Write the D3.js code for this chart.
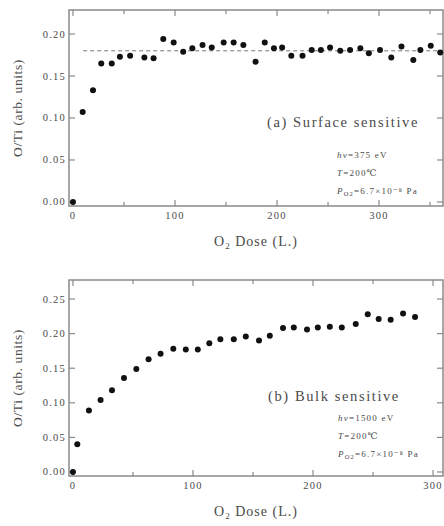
<!DOCTYPE html>
<html>
<head>
<meta charset="utf-8">
<script src="https://cdn.jsdelivr.net/npm/d3@7"></script>
<style>
  body { margin: 0; background: #fff; }
</style>
</head>
<body>
<script>
// Panel (a): surface sensitive
const doseA = [0, 9.5, 19.6, 27.7, 38, 46, 56, 70, 79, 88.5, 98.7, 108, 117, 127, 136, 147.7, 157.5, 167, 179, 188,
  197, 205, 214, 225, 234, 243, 252, 262, 271.6, 281.7, 290, 301, 312, 322, 333.6, 340.5, 350.7, 360];
const ratioA = [0.0, 0.107, 0.133, 0.165, 0.165, 0.173, 0.174, 0.172, 0.171, 0.194, 0.19, 0.179, 0.183, 0.187, 0.184, 0.19, 0.19,
  0.187, 0.167, 0.19, 0.183, 0.184, 0.174, 0.174, 0.181, 0.181, 0.184, 0.18, 0.181, 0.183, 0.177, 0.181, 0.172, 0.185,
  0.169, 0.181, 0.186, 0.178];
const levelA = 0.18;
const levelAStart = 10;

// Panel (b): bulk sensitive
const doseB = [0, 3.6, 13.3, 23, 32.5, 42.5, 52.8, 63, 73, 83.6, 94, 104, 113.6, 122.8, 134, 144, 155, 164, 175, 184,
  195, 204, 214, 224, 235.6, 245.6, 254.7, 264.7, 275, 285];
const ratioB = [0.0, 0.04, 0.089, 0.104, 0.118, 0.136, 0.149, 0.163, 0.171, 0.178, 0.177, 0.177, 0.186, 0.192, 0.192, 0.196,
  0.19, 0.197, 0.208, 0.209, 0.206, 0.209, 0.21, 0.209, 0.214, 0.228, 0.221, 0.22, 0.229, 0.224];

const xTicksA = [0, 100, 200, 300];
const xMinorA = [50, 150, 250, 350];
const yTicksA = [0, 0.05, 0.10, 0.15, 0.20];
const xTicksB = [0, 100, 200, 300];
const xMinorB = [50, 150, 250];
const yTicksB = [0, 0.05, 0.10, 0.15, 0.20, 0.25];

const titleA = "(a) Surface sensitive";
const titleB = "(b) Bulk sensitive";
const notesA = ["hν=375 eV", "T=200℃", "P_O2=6.7×10⁻⁸ Pa"];
const notesB = ["hν=1500 eV", "T=200℃", "P_O2=6.7×10⁻⁸ Pa"];

const width = 444, height = 526;
const svg = d3.select("body").append("svg")
  .attr("width", width)
  .attr("height", height)
  .attr("font-family", "'Liberation Serif', 'DejaVu Serif', serif")
  .attr("fill", "#4a4a4a");

function drawPanel(cfg) {
  const x = d3.scaleLinear().domain(cfg.xDomain).range([cfg.left, cfg.right]);
  const y = d3.scaleLinear().domain(cfg.yDomain).range([cfg.bottom, cfg.top]);
  const g = svg.append("g");
  const frameColor = "#8a8a8a";

  // frame
  g.append("rect")
    .attr("x", cfg.left).attr("y", cfg.top)
    .attr("width", cfg.right - cfg.left).attr("height", cfg.bottom - cfg.top)
    .attr("fill", "none").attr("stroke", frameColor).attr("stroke-width", 1.5);

  // x ticks, inward on bottom and top
  const xt = cfg.xTicks.map(v => ({ v, len: 6 })).concat(cfg.xMinor.map(v => ({ v, len: 4 })));
  g.selectAll(".xtb").data(xt).enter().append("line")
    .attr("x1", d => x(d.v)).attr("x2", d => x(d.v))
    .attr("y1", cfg.bottom).attr("y2", d => cfg.bottom - d.len)
    .attr("stroke", frameColor).attr("stroke-width", 1.2);
  g.selectAll(".xtt").data(xt).enter().append("line")
    .attr("x1", d => x(d.v)).attr("x2", d => x(d.v))
    .attr("y1", cfg.top).attr("y2", d => cfg.top + d.len)
    .attr("stroke", frameColor).attr("stroke-width", 1.2);
  g.selectAll(".xl").data(cfg.xTicks).enter().append("text")
    .attr("x", d => x(d)).attr("y", cfg.bottom + 13)
    .attr("text-anchor", "middle").attr("font-size", 10.5)
    .attr("letter-spacing", 1.2)
    .text(d => d);

  // y ticks, inward on left and right
  g.selectAll(".ytl").data(cfg.yTicks).enter().append("line")
    .attr("x1", cfg.left).attr("x2", cfg.left + 6)
    .attr("y1", d => y(d)).attr("y2", d => y(d))
    .attr("stroke", frameColor).attr("stroke-width", 1.2);
  g.selectAll(".ytr").data(cfg.yTicks).enter().append("line")
    .attr("x1", cfg.right).attr("x2", cfg.right - 6)
    .attr("y1", d => y(d)).attr("y2", d => y(d))
    .attr("stroke", frameColor).attr("stroke-width", 1.2);
  g.selectAll(".yl").data(cfg.yTicks).enter().append("text")
    .attr("x", cfg.left - 3).attr("y", d => y(d) + 3.5)
    .attr("text-anchor", "end").attr("font-size", 10.5)
    .attr("letter-spacing", 1.2)
    .text(d => d3.format(".2f")(d));

  // axis labels
  const xl = g.append("text")
    .attr("x", (cfg.left + cfg.right) / 2).attr("y", cfg.bottom + 40)
    .attr("text-anchor", "middle").attr("font-size", 14)
    .attr("letter-spacing", 1);
  xl.append("tspan").text("O");
  xl.append("tspan").attr("font-size", 9).attr("dy", 3).text("2");
  xl.append("tspan").attr("dy", -3).text(" Dose (L.)");

  g.append("text")
    .attr("transform", `translate(22, ${(cfg.top + cfg.bottom) / 2}) rotate(-90)`)
    .attr("text-anchor", "middle").attr("font-size", 13.5)
    .attr("letter-spacing", 0.6)
    .text("O/Ti (arb. units)");

  // reference level
  if (cfg.level !== undefined) {
    g.append("line")
      .attr("x1", x(cfg.levelStart)).attr("x2", cfg.right)
      .attr("y1", y(cfg.level)).attr("y2", y(cfg.level))
      .attr("stroke", "#777").attr("stroke-width", 1)
      .attr("stroke-dasharray", "4,3");
  }

  // points
  g.selectAll("circle").data(cfg.xs.map((d, i) => [d, cfg.ys[i]])).enter().append("circle")
    .attr("cx", d => x(d[0])).attr("cy", d => y(d[1]))
    .attr("r", 3).attr("fill", "#111");

  // title and notes
  g.append("text")
    .attr("x", cfg.titleX).attr("y", cfg.titleY)
    .attr("font-size", 14.5).attr("letter-spacing", 1.6)
    .text(cfg.title);

  cfg.notes.forEach((t, i) => {
    const tx = g.append("text")
      .attr("x", cfg.noteX).attr("y", cfg.noteY + i * 18)
      .attr("font-size", 9).attr("letter-spacing", 1.2);
    if (t.startsWith("P_O2")) {
      tx.append("tspan").attr("font-style", "italic").text("P");
      tx.append("tspan").attr("font-size", 6.5).attr("dy", 2).text("O2");
      tx.append("tspan").attr("dy", -2).text(t.slice(4));
    } else {
      const k = t.indexOf("=");
      tx.append("tspan").attr("font-style", "italic").text(t.slice(0, k));
      tx.append("tspan").text(t.slice(k));
    }
  });
}

drawPanel({
  left: 69, right: 443, top: 10, bottom: 206,
  xDomain: [-3.9, 362.7], yDomain: [-0.0048, 0.2286],
  xTicks: xTicksA, xMinor: xMinorA, yTicks: yTicksA,
  xs: doseA, ys: ratioA, level: levelA, levelStart: levelAStart,
  title: titleA, titleX: 267, titleY: 127,
  notes: notesA, noteX: 337, noteY: 158
});

drawPanel({
  left: 69, right: 443, top: 280, bottom: 476,
  xDomain: [-3.3, 308.3], yDomain: [-0.0058, 0.2775],
  xTicks: xTicksB, xMinor: xMinorB, yTicks: yTicksB,
  xs: doseB, ys: ratioB,
  title: titleB, titleX: 268, titleY: 401,
  notes: notesB, noteX: 338, noteY: 421
});
</script>
</body>
</html>
